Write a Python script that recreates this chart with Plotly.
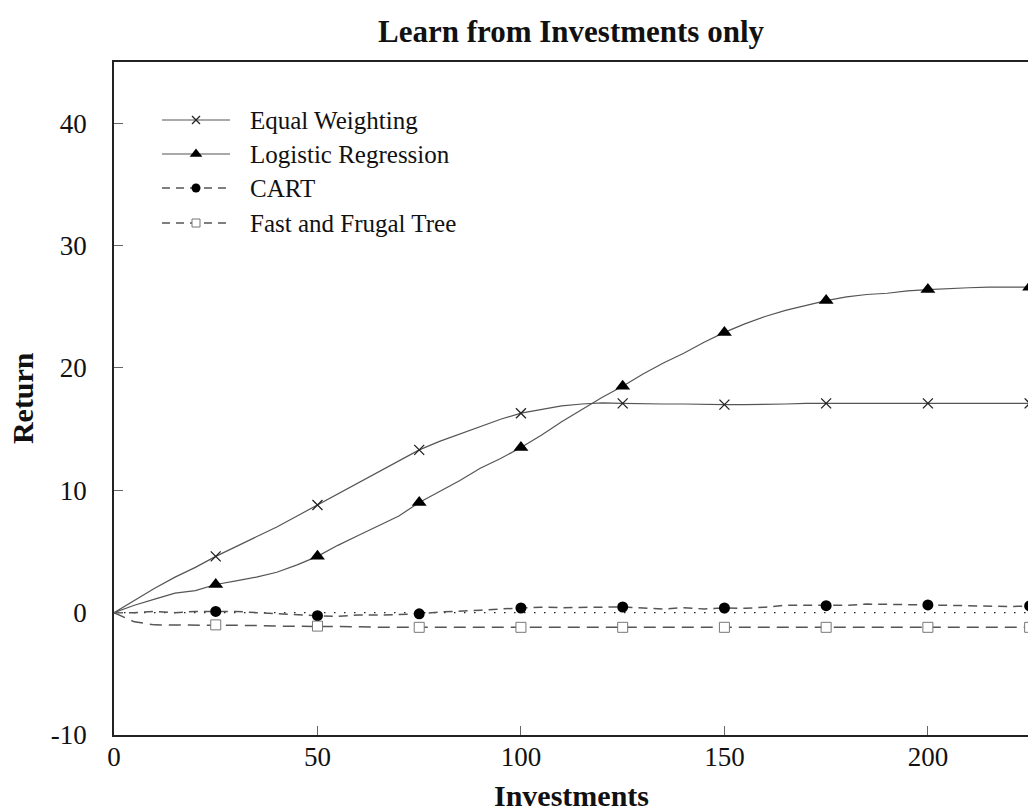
import plotly.graph_objects as go

# Cumulative return per investment count, sampled every 5 investments
investments = list(range(0, 230, 5))

equal_weighting = [0.0, 1.0, 2.0, 2.9, 3.7, 4.6, 5.4, 6.2, 7.0, 7.9,
                   8.8, 9.7, 10.6, 11.5, 12.4, 13.3, 14.0, 14.6, 15.2, 15.8,
                   16.3, 16.6, 16.9, 17.05, 17.15, 17.1, 17.05, 17.05, 17.05, 17.0,
                   17.0, 17.0, 17.0, 17.05, 17.1, 17.1, 17.1, 17.1, 17.1, 17.1,
                   17.1, 17.1, 17.1, 17.1, 17.1, 17.1]

logistic_regression = [0.0, 0.6, 1.1, 1.6, 1.8, 2.3, 2.6, 2.9, 3.3, 3.9,
                       4.6, 5.5, 6.3, 7.1, 7.9, 9.0, 9.9, 10.8, 11.8, 12.6,
                       13.5, 14.5, 15.6, 16.6, 17.6, 18.5, 19.5, 20.4, 21.2, 22.1,
                       22.9, 23.6, 24.2, 24.7, 25.1, 25.5, 25.8, 26.0, 26.1, 26.3,
                       26.4, 26.5, 26.55, 26.6, 26.6, 26.6]

cart = [0.0, 0.0, 0.1, 0.0, 0.1, 0.1, 0.1, 0.0, -0.1, -0.2,
        -0.25, -0.3, -0.2, -0.2, -0.15, -0.1, 0.05, 0.1, 0.2, 0.3,
        0.38, 0.45, 0.4, 0.45, 0.45, 0.46, 0.35, 0.3, 0.4, 0.3,
        0.38, 0.35, 0.45, 0.6, 0.6, 0.57, 0.6, 0.7, 0.7, 0.65,
        0.63, 0.6, 0.6, 0.55, 0.5, 0.55]

fast_frugal_tree = [0.0, -0.75, -1.0, -1.0, -1.0, -1.0, -1.05, -1.05, -1.1, -1.1,
                    -1.1, -1.15, -1.15, -1.2, -1.2, -1.2, -1.2, -1.2, -1.2, -1.2,
                    -1.2, -1.2, -1.2, -1.2, -1.2, -1.2, -1.2, -1.2, -1.2, -1.2,
                    -1.2, -1.2, -1.2, -1.2, -1.2, -1.2, -1.2, -1.2, -1.2, -1.2,
                    -1.2, -1.2, -1.2, -1.2, -1.2, -1.2]

series_names = ["Equal Weighting", "Logistic Regression", "CART", "Fast and Frugal Tree"]

x_ticks = [0, 50, 100, 150, 200]
y_ticks = [-10, 0, 10, 20, 30, 40]
y_tick_text = ["-10", "0", "10", "20", "30", "40"]

SERIF = "Liberation Serif, Times New Roman, serif"
LINE_GREY = "#555555"

styles = [
    dict(dash="solid", width=1.2, symbol="x-thin", size=10, fill="#222", edge="#222", edge_w=1.3),
    dict(dash="solid", width=1.2, symbol="triangle-up", size=13, fill="black", edge="black", edge_w=0),
    dict(dash="9px,6px", width=1.5, symbol="circle", size=11, fill="black", edge="black", edge_w=0),
    dict(dash="12px,7px", width=1.5, symbol="square", size=10, fill="white", edge="#777", edge_w=1),
]

data = [equal_weighting, logistic_regression, cart, fast_frugal_tree]

fig = go.Figure()

# zero reference line
fig.add_shape(type="line", xref="paper", yref="y", x0=0, x1=1, y0=0, y1=0,
              line=dict(color="#222", width=1.3, dash="1.5px,8.5px"), layer="below")

for name, ys, st in zip(series_names, data, styles):
    fig.add_trace(go.Scatter(
        x=investments, y=ys, mode="lines", name=name, showlegend=False,
        line=dict(color=LINE_GREY, width=st["width"], dash=st["dash"]),
    ))

# markers every 25 investments
for name, ys, st in zip(series_names, data, styles):
    mx = [x for x in investments if x > 0 and x % 25 == 0]
    my = [ys[investments.index(x)] for x in mx]
    fig.add_trace(go.Scatter(
        x=mx, y=my, mode="markers", name=name, showlegend=False,
        marker=dict(symbol=st["symbol"], size=st["size"], color=st["fill"],
                    line=dict(color=st["edge"], width=st["edge_w"])),
    ))

# legend drawn inside the plot on a pixel-offset overlay axis
legend_rows = [58, 92, 126, 161]
for name, row, st in zip(series_names, legend_rows, styles):
    fig.add_trace(go.Scatter(
        x=[48, 116], y=[row, row], xaxis="x2", yaxis="y2", mode="lines",
        showlegend=False, hoverinfo="skip",
        line=dict(color=LINE_GREY, width=st["width"],
                  dash="8px,6px" if st["dash"] != "solid" else "solid"),
    ))
    fig.add_trace(go.Scatter(
        x=[82], y=[row], xaxis="x2", yaxis="y2", mode="markers",
        showlegend=False, hoverinfo="skip",
        marker=dict(symbol=st["symbol"], size=st["size"] - 2, color=st["fill"],
                    line=dict(color=st["edge"], width=st["edge_w"])),
    ))
    fig.add_annotation(x=134, y=row, xref="x2", yref="y2", text=name,
                       showarrow=False, xanchor="left", yanchor="middle",
                       font=dict(family=SERIF, size=25, color="#111"))

fig.add_annotation(text="<b>Investments</b>", xref="paper", yref="paper",
                   x=0.5, y=-0.09, yanchor="middle", showarrow=False,
                   font=dict(family=SERIF, size=30, color="#111"))
fig.add_annotation(text="<b>Return</b>", xref="paper", yref="paper",
                   x=-0.1, xanchor="center", y=0.5, textangle=-90, showarrow=False,
                   font=dict(family=SERIF, size=30, color="#111"))

fig.update_layout(
    width=1028, height=812,
    margin=dict(l=114, r=0, t=62, b=77),
    paper_bgcolor="white", plot_bgcolor="white",
    title=dict(text="<b>Learn from Investments only</b>", x=0.5, xref="paper",
               y=1 - 31 / 812, yanchor="middle",
               font=dict(family=SERIF, size=31, color="#111")),
    xaxis=dict(range=[0, 224.6], tickvals=x_ticks, showgrid=False, zeroline=False,
               showline=True, linecolor="#222", linewidth=1.6, mirror=True,
               ticks="inside", ticklen=9, tickcolor="#666", tickwidth=1,
               ticklabelstandoff=-3,
               tickfont=dict(family=SERIF, size=27, color="#111")),
    yaxis=dict(range=[-10, 45], tickvals=y_ticks, ticktext=y_tick_text,
               showgrid=False, zeroline=False,
               showline=True, linecolor="#222", linewidth=1.6, mirror=False,
               ticks="inside", ticklen=9, tickcolor="#666", tickwidth=1,
               ticklabelstandoff=20,
               tickfont=dict(family=SERIF, size=27, color="#111")),
    xaxis2=dict(overlaying="x", anchor="y2", range=[0, 914], visible=False),
    yaxis2=dict(overlaying="y", anchor="x2", range=[673, 0], visible=False),
)

fig.write_html("out.html")
